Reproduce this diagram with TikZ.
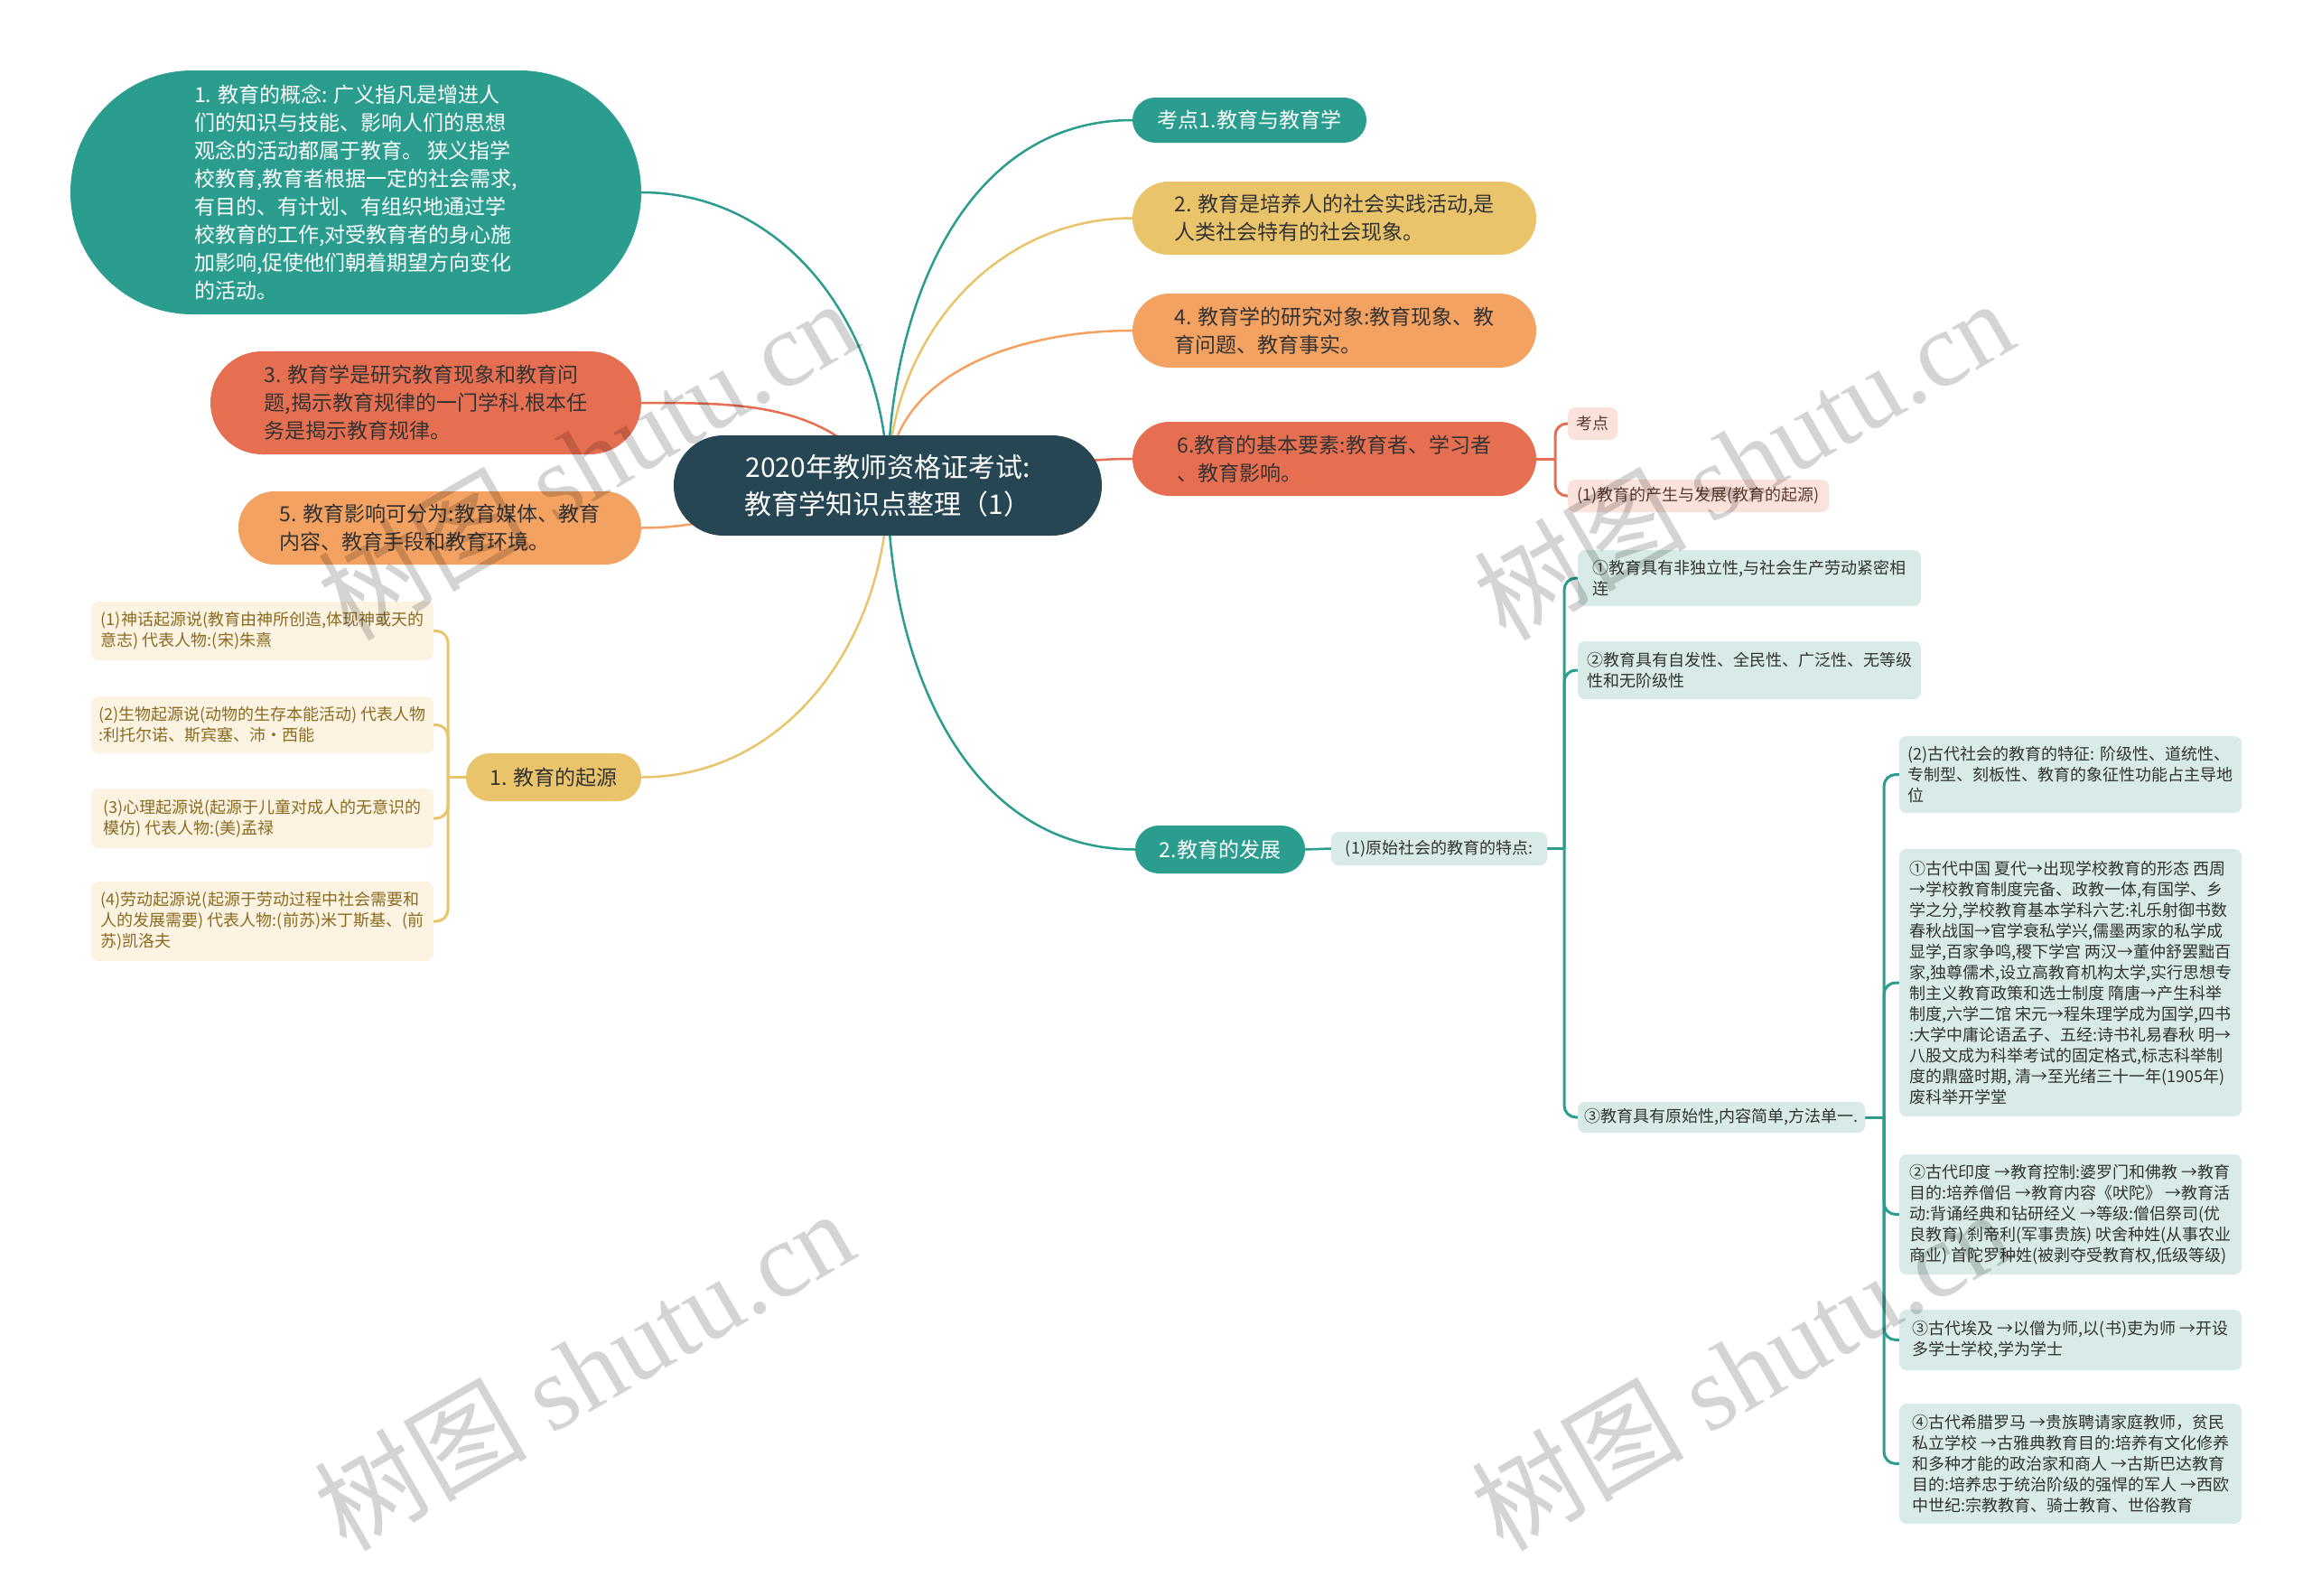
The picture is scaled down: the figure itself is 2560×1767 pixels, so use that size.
\documentclass[tikz,border=0pt]{standalone}
\usepackage{fontspec}
\setmainfont{Noto Sans CJK SC}
\newfontfamily\wmlatin{Liberation Serif}
\usetikzlibrary{backgrounds}
\definecolor{cTeal}{HTML}{2A9D8F}
\definecolor{cRoot}{HTML}{264653}
\definecolor{cYel}{HTML}{E9C46A}
\definecolor{cOra}{HTML}{F4A261}
\definecolor{cCor}{HTML}{E76F51}
\definecolor{cLT}{HTML}{D8EBE8}
\definecolor{cCream}{HTML}{FCF3E2}
\definecolor{cPink}{HTML}{FBE3DB}
\definecolor{cTxt}{HTML}{333333}
\definecolor{cBrown}{HTML}{8A6A1E}
\definecolor{cPinkTxt}{HTML}{5A3A30}
\tikzset{
  bigtext/.style={align=left, inner sep=0pt, font=\fontsize{23}{31}\selectfont, text=cTxt},
  smalltext/.style={align=left, inner sep=0pt, font=\fontsize{18}{23}\selectfont, text=cTxt, rounded corners=8pt},
  ltbox/.style={smalltext, fill=cLT},
  crbox/.style={smalltext, fill=cCream, text=cBrown},
  pkbox/.style={smalltext, fill=cPink, text=cPinkTxt},
  conn/.style={line width=2.5pt},
  brk/.style={line width=3pt, rounded corners=13pt},
  wm/.style={rotate=30, text=black, text opacity=0.17, font=\fontsize{118}{118}\selectfont}
}
\begin{document}
\begin{tikzpicture}[x=1pt,y=-1pt]
\useasboundingbox (0,0) rectangle (2560,1767);

% root
\node[align=center, inner sep=0pt, font=\fontsize{30}{41}\selectfont, text=white, fill=cRoot,
  minimum width=474pt, minimum height=111pt, rounded corners=55pt] (root) at (983,537.5)
  {2020年教师资格证考试:\\教育学知识点整理（1）};

% left main nodes
\node[bigtext, fill=cTeal, text=white, minimum width=632pt, minimum height=270pt, rounded corners=135pt] (n1) at (394,213)
  {1. 教育的概念: 广义指凡是增进人\\们的知识与技能、影响人们的思想\\观念的活动都属于教育。 狭义指学\\校教育,教育者根据一定的社会需求,\\有目的、有计划、有组织地通过学\\校教育的工作,对受教育者的身心施\\加影响,促使他们朝着期望方向变化\\的活动。};
\node[bigtext, fill=cCor, minimum width=477pt, minimum height=114pt, rounded corners=57pt] (n3) at (471.5,446)
  {3. 教育学是研究教育现象和教育问\\题,揭示教育规律的一门学科.根本任\\务是揭示教育规律。};
\node[bigtext, fill=cOra, minimum width=446pt, minimum height=81pt, rounded corners=40pt] (n5) at (487,584.5)
  {5. 教育影响可分为:教育媒体、教育\\内容、教育手段和教育环境。};
\node[bigtext, fill=cYel, minimum width=194pt, minimum height=53pt, rounded corners=26pt] (qy) at (613,860.5)
  {1. 教育的起源};

% right main nodes
\node[bigtext, fill=cTeal, text=white, minimum width=259pt, minimum height=50pt, rounded corners=25pt] (k1) at (1383.5,133)
  {考点1.教育与教育学};
\node[bigtext, fill=cYel, minimum width=447pt, minimum height=81pt, rounded corners=40pt] (n2) at (1477.5,241.5)
  {2. 教育是培养人的社会实践活动,是\\人类社会特有的社会现象。};
\node[bigtext, fill=cOra, minimum width=447pt, minimum height=82pt, rounded corners=41pt] (n4) at (1477.5,366)
  {4. 教育学的研究对象:教育现象、教\\育问题、教育事实。};
\node[bigtext, fill=cCor, minimum width=447pt, minimum height=82pt, rounded corners=41pt] (n6) at (1477.5,508)
  {6.教育的基本要素:教育者、学习者\\、教育影响。};
\node[bigtext, fill=cTeal, text=white, minimum width=188pt, minimum height=53pt, rounded corners=26pt] (fz) at (1351,940.5)
  {2.教育的发展};

% small nodes
\node[pkbox, minimum width=55pt, minimum height=36pt] (kd) at (1763.5,469) {考点};
\node[pkbox, minimum width=289pt, minimum height=36pt] (ch) at (1880.5,549) {(1)教育的产生与发展(教育的起源)};

\node[ltbox, minimum width=239pt, minimum height=37pt] (ys) at (1593.5,939.5) {(1)原始社会的教育的特点:};
\node[ltbox, minimum width=380pt, minimum height=62pt] (d1) at (1937,640)
  {①教育具有非独立性,与社会生产劳动紧密相\\连};
\node[ltbox, minimum width=380pt, minimum height=64pt] (d2) at (1937,742)
  {②教育具有自发性、全民性、广泛性、无等级\\性和无阶级性};
\node[ltbox, minimum width=318pt, minimum height=34pt] (d3) at (1906,1237)
  {③教育具有原始性,内容简单,方法单一.};

\node[ltbox, minimum width=379pt, minimum height=85pt] (a0) at (2292.5,857.5)
  {(2)古代社会的教育的特征: 阶级性、道统性、\\专制型、刻板性、教育的象征性功能占主导地\\位};
\node[ltbox, minimum width=379pt, minimum height=296pt] (a1) at (2292.5,1088)
  {①古代中国 夏代→出现学校教育的形态 西周\\→学校教育制度完备、政教一体,有国学、乡\\学之分,学校教育基本学科六艺:礼乐射御书数\\春秋战国→官学衰私学兴,儒墨两家的私学成\\显学,百家争鸣,稷下学宫 两汉→董仲舒罢黜百\\家,独尊儒术,设立高教育机构太学,实行思想专\\制主义教育政策和选士制度 隋唐→产生科举\\制度,六学二馆 宋元→程朱理学成为国学,四书\\:大学中庸论语孟子、五经:诗书礼易春秋 明→\\八股文成为科举考试的固定格式,标志科举制\\度的鼎盛时期, 清→至光绪三十一年(1905年)\\废科举开学堂};
\node[ltbox, minimum width=379pt, minimum height=133pt] (a2) at (2292.5,1344.5)
  {②古代印度 →教育控制:婆罗门和佛教 →教育\\目的:培养僧侣 →教育内容《吠陀》 →教育活\\动:背诵经典和钻研经义 →等级:僧侣祭司(优\\良教育) 刹帝利(军事贵族) 吠舍种姓(从事农业\\商业) 首陀罗种姓(被剥夺受教育权,低级等级)};
\node[ltbox, minimum width=379pt, minimum height=67pt] (a3) at (2292.5,1483.5)
  {③古代埃及 →以僧为师,以(书)吏为师 →开设\\多学士学校,学为学士};
\node[ltbox, minimum width=379pt, minimum height=133pt] (a4) at (2292.5,1620.5)
  {④古代希腊罗马 →贵族聘请家庭教师，贫民\\私立学校 →古雅典教育目的:培养有文化修养\\和多种才能的政治家和商人 →古斯巴达教育\\目的:培养忠于统治阶级的强悍的军人 →西欧\\中世纪:宗教教育、骑士教育、世俗教育};

\node[crbox, minimum width=379pt, minimum height=65pt] (o1) at (290.5,698.5)
  {(1)神话起源说(教育由神所创造,体现神或天的\\意志) 代表人物:(宋)朱熹};
\node[crbox, minimum width=379pt, minimum height=63pt] (o2) at (290.5,802.5)
  {(2)生物起源说(动物的生存本能活动) 代表人物\\:利托尔诺、斯宾塞、沛·西能};
\node[crbox, minimum width=379pt, minimum height=66pt] (o3) at (290.5,906)
  {(3)心理起源说(起源于儿童对成人的无意识的\\模仿) 代表人物:(美)孟禄};
\node[crbox, minimum width=379pt, minimum height=88pt] (o4) at (290.5,1020)
  {(4)劳动起源说(起源于劳动过程中社会需要和\\人的发展需要) 代表人物:(前苏)米丁斯基、(前\\苏)凯洛夫};

% bracket junctions
\coordinate (b6) at (1722,508);
\coordinate (bys) at (1732,939.5);
\coordinate (bd3) at (2086,1237);
\coordinate (bqy) at (496,860.5);

\begin{pgfonlayer}{background}
  \fill[white] (0,0) rectangle (2560,1767);
  \draw[conn, cTeal] (root.center) to[out=90,in=180] (k1.west);
  \draw[conn, cYel] (root.center) to[out=90,in=180] (n2.west);
  \draw[conn, cOra] (root.center) to[out=90,in=180] (n4.west);
  \draw[conn, cCor] (root.center) to[out=0,in=180] (n6.west);
  \draw[conn, cTeal] (root.center) to[out=-90,in=180] (fz.west);
  \draw[conn, cTeal] (root.center) to[out=90,in=0] (n1.east);
  \draw[conn, cCor] (root.center) to[out=125,in=0] (n3.east);
  \draw[conn, cOra] (root.center) to[out=180,in=0] (n5.east);
  \draw[conn, cYel] (root.center) to[out=-90,in=0] (qy.east);

  \draw[conn, cTeal] (fz.east) -- (ys.west);

  \draw[brk, cCor] (n6.east) -- (b6);
  \draw[brk, cCor] (b6) |- (kd.west);
  \draw[brk, cCor] (b6) |- (ch.west);

  \draw[brk, cTeal] (ys.east) -- (bys);
  \draw[brk, cTeal] (bys) |- (d1.west);
  \draw[brk, cTeal] (bys) |- (d2.west);
  \draw[brk, cTeal] (bys) |- (d3.west);

  \draw[brk, cTeal] (d3.east) -- (bd3);
  \draw[brk, cTeal] (bd3) |- (a0.west);
  \draw[brk, cTeal] (bd3) |- (a1.west);
  \draw[brk, cTeal] (bd3) |- (a2.west);
  \draw[brk, cTeal] (bd3) |- (a3.west);
  \draw[brk, cTeal] (bd3) |- (a4.west);

  \draw[brk, cYel] (qy.west) -- (bqy);
  \draw[brk, cYel] (bqy) |- (o1.east);
  \draw[brk, cYel] (bqy) |- (o2.east);
  \draw[brk, cYel] (bqy) |- (o3.east);
  \draw[brk, cYel] (bqy) |- (o4.east);
\end{pgfonlayer}

% watermarks
\node[wm] (wm1) at (650,508) {树图 {\wmlatin shutu.cn}};
\node[wm] (wm2) at (1930,508) {树图 {\wmlatin shutu.cn}};
\node[wm] (wm3) at (646,1516) {树图 {\wmlatin shutu.cn}};
\node[wm] (wm4) at (1927,1516) {树图 {\wmlatin shutu.cn}};
\end{tikzpicture}
\end{document}
